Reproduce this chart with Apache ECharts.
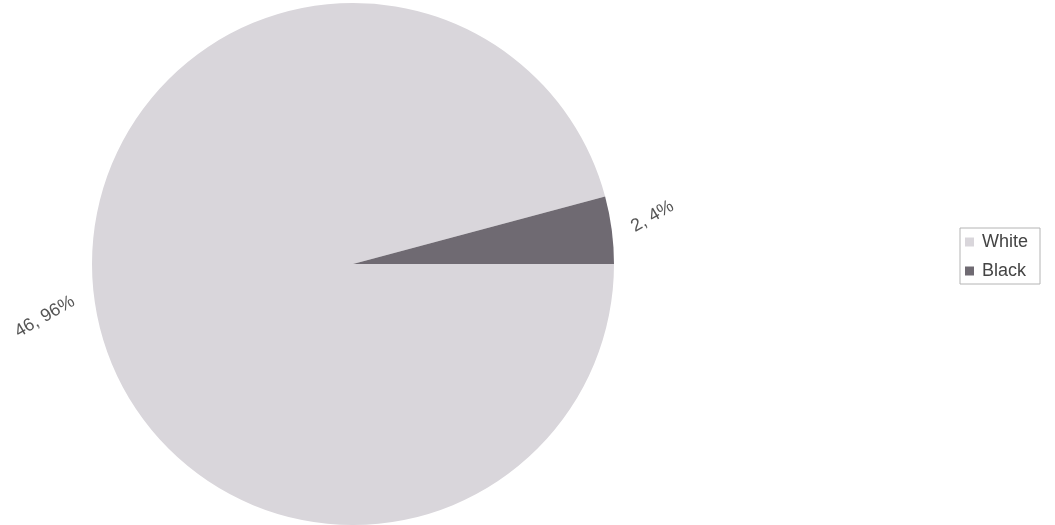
<!DOCTYPE html>
<html>
<head>
<meta charset="utf-8">
<script src="https://cdn.jsdelivr.net/npm/echarts@6/dist/echarts.min.js"></script>
<style>
  html, body { margin: 0; padding: 0; background: #fff; }
  #chart { width: 1055px; height: 525px; }
</style>
</head>
<body>
<div id="chart"></div>
<script>
// Slice names and counts
const categories = ['White', 'Black'];
const counts = [46, 2];
const sliceColors = ['#d9d6db', '#6f6a72'];

const total = counts.reduce((a, b) => a + b, 0);
const pieData = categories.map((name, i) => ({
  name: name,
  value: counts[i],
  itemStyle: { color: sliceColors[i] }
}));

const chart = echarts.init(document.getElementById('chart'));
chart.setOption({
  animation: false,
  legend: {
    orient: 'vertical',
    left: 960,
    top: 228,
    data: categories,
    icon: 'rect',
    itemWidth: 9,
    itemHeight: 9,
    itemGap: 11,
    padding: [5, 12, 4, 5],
    borderColor: '#b4b4b4',
    borderWidth: 1,
    textStyle: {
      fontFamily: 'Liberation Sans, Arial, sans-serif',
      fontSize: 18,
      color: '#444',
      padding: [0, 0, 0, 3]
    }
  },
  series: [{
    type: 'pie',
    center: [353, 264],
    radius: 261,
    startAngle: 0,
    clockwise: true,
    data: pieData,
    label: {
      show: true,
      position: 'outside',
      rotate: 30,
      fontFamily: 'Liberation Sans, Arial, sans-serif',
      fontSize: 18,
      color: '#555',
      formatter: p => p.value + ', ' + Math.round(p.value / total * 100) + '%'
    },
    labelLine: { show: false, length: 16, length2: 0 },
    emphasis: { disabled: true }
  }]
});
</script>
</body>
</html>
